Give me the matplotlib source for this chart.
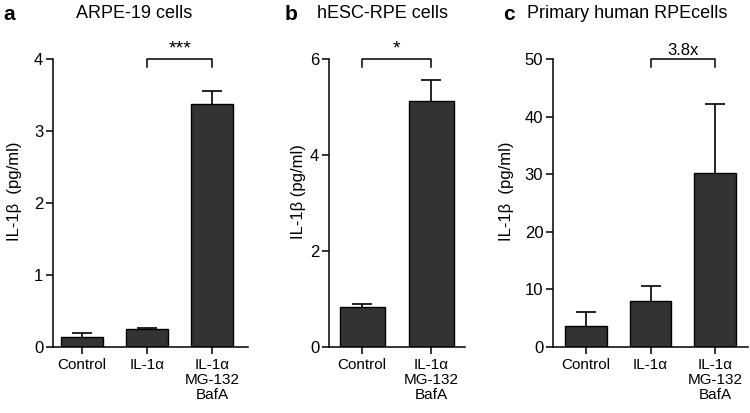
import matplotlib
matplotlib.use("Agg")
from matplotlib import pyplot as plt

plt.rcParams["font.family"] = ["Liberation Sans", "DejaVu Sans"]

# panel a: ARPE-19
a_groups = ["Control", "IL-1α", "IL-1α\nMG-132\nBafA"]
a_mean = [0.14, 0.25, 3.38]
a_err = [0.05, 0.02, 0.18]
a_ticks = [0, 1, 2, 3, 4]

# panel b: hESC-RPE
b_groups = ["Control", "IL-1α\nMG-132\nBafA"]
b_mean = [0.83, 5.13]
b_err = [0.06, 0.43]
b_ticks = [0, 2, 4, 6]

# panel c: primary RPE
c_groups = ["Control", "IL-1α", "IL-1α\nMG-132\nBafA"]
c_mean = [3.6, 7.95, 30.2]
c_err = [2.4, 2.65, 12.0]
c_ticks = [0, 10, 20, 30, 40, 50]

panels = [
    # letter, title, groups, mean, err, ticks, bracket pair, bracket text,
    # axes px [left, width], xlim, ylabel, label x, letter px, title px
    ("a", "ARPE-19 cells", a_groups, a_mean, a_err, a_ticks, (1, 2), "***",
     [53, 195], (-0.45, 2.55), "IL-1β  (pg/ml)", -0.16, 3, 76),
    ("b", "hESC-RPE cells", b_groups, b_mean, b_err, b_ticks, (0, 1), "*",
     [329, 136], (-0.48, 1.49), "IL-1β (pg/ml)", -0.17, 285, 317),
    ("c", "Primary human RPEcells", c_groups, c_mean, c_err, c_ticks, (1, 2), "3.8x",
     [553, 195], (-0.51, 2.51), "IL-1β  (pg/ml)", -0.2, 503, 527),
]

W, H = 750, 413
fig = plt.figure(figsize=(7.5, 4.13), dpi=100)

for (letter, title, groups, mean, err, ticks, pair, sig, rect, xlim,
     ylab, lx, letter_x, title_x) in panels:
    ax = fig.add_axes([rect[0] / W, 66 / H, rect[1] / W, 288 / H])
    x = list(range(len(groups)))
    tops = [m + e for m, e in zip(mean, err)]
    ax.vlines(x, mean, tops, color="black", lw=1.2, zorder=1)
    ax.plot(x, tops, ls="none", marker="_", markersize=15, mew=1.2,
            color="black", zorder=1)
    ax.bar(x, mean, width=0.65, color="#333333", edgecolor="black",
           linewidth=1.0, zorder=2)
    ax.set_xlim(*xlim)
    ax.set_ylim(0, ticks[-1])
    ax.set_yticks(ticks)
    ax.set_xticks(x)
    ax.set_xticklabels(groups, fontsize=11, linespacing=1.1)
    ax.tick_params(axis="y", labelsize=12, length=5, width=1.1, pad=2)
    ax.tick_params(axis="x", length=5, width=1.1, pad=3)
    for s in ["top", "right"]:
        ax.spines[s].set_visible(False)
    for s in ["left", "bottom"]:
        ax.spines[s].set_linewidth(1.1)
    ax.set_ylabel(ylab, fontsize=12)
    ax.yaxis.set_label_coords(lx, 0.54)

    # significance bracket
    top = ticks[-1]
    drop = top * 0.028
    i, j = pair
    ax.plot([i, i, j, j], [top - drop, top, top, top - drop], color="black",
            lw=1.1, clip_on=False)
    ax.text((i + j) / 2, top + top * 0.005, sig, ha="center", va="bottom",
            fontsize=14 if "*" in sig else 12, clip_on=False)

    # panel letter and title
    fig.text(letter_x / W, 1 - 14 / H, letter, fontsize=15, fontweight="bold",
             va="center", ha="left")
    fig.text(title_x / W, 1 - 14 / H, title, fontsize=13, va="center", ha="left")

fig.savefig("out.png", dpi=100)
